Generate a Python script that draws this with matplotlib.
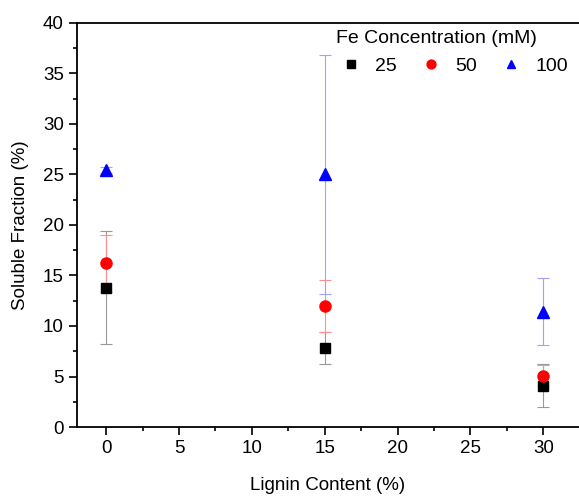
import matplotlib
matplotlib.use('Agg')
import matplotlib.pyplot as plt
from matplotlib.ticker import MultipleLocator

plt.rcParams['font.family'] = ['Liberation Sans', 'DejaVu Sans']

lignin = [0, 15, 30]
conc_labels = ['25', '50', '100']
soluble = {
    '25': [13.8, 7.8, 4.1],
    '50': [16.2, 12.0, 5.1],
    '100': [25.4, 25.0, 11.4],
}
errors = {
    '25': [5.6, 1.6, 2.1],
    '50': [2.8, 2.6, 1.0],
    '100': [0.3, 11.8, 3.3],
}
markers = {'25': 's', '50': 'o', '100': '^'}
colors = {'25': 'black', '50': 'red', '100': 'blue'}
err_colors = {'25': '#999999', '50': '#ff9090', '100': '#a0a0ff'}

fig = plt.figure(figsize=(5.79, 4.96), dpi=100)
ax = fig.add_axes([0.133, 0.139, 0.867, 0.815])

for c in conc_labels:
    ax.errorbar(lignin, soluble[c], yerr=errors[c], fmt='none',
                ecolor=err_colors[c], elinewidth=0.8, capsize=4, capthick=0.8, zorder=2)
    ax.plot(lignin, soluble[c], linestyle='none', marker=markers[c],
            color=colors[c], markersize=8 if c != '25' else 7, label=c, zorder=3)

ax.set_xlim(-2.0, 32.45)
ax.set_ylim(0, 40)
ax.xaxis.set_major_locator(MultipleLocator(5))
ax.xaxis.set_minor_locator(MultipleLocator(2.5))
ax.yaxis.set_major_locator(MultipleLocator(5))
ax.yaxis.set_minor_locator(MultipleLocator(2.5))
ax.tick_params(which='major', direction='out', length=6, width=1.2, labelsize=13.5)
ax.tick_params(which='minor', direction='out', length=3, width=1.2)
ax.spines['right'].set_visible(False)
for s in ax.spines.values():
    s.set_linewidth(1.3)

ax.set_xlabel('Lignin Content (%)', fontsize=13.5, labelpad=14)
ax.set_ylabel('Soluble Fraction (%)', fontsize=13.5, labelpad=10)

ax.legend(title='Fe Concentration (mM)', ncol=3, frameon=False, loc='upper right',
          fontsize=14, title_fontsize=14, handletextpad=0.5, columnspacing=1.0,
          handlelength=1.5, bbox_to_anchor=(1.005, 1.015), markerscale=0.8,
          alignment='left', borderaxespad=0.3)

fig.savefig('out.png', dpi=100)
